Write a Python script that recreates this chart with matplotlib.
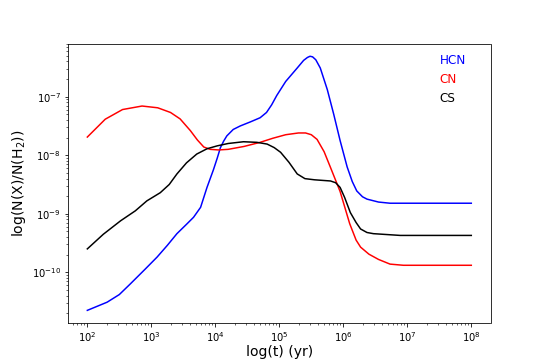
import numpy as np
import matplotlib
matplotlib.use("Agg")
import matplotlib.pyplot as plt

# log10(t / yr) and log10 abundance
lt_hcn = [2.0, 2.31, 2.5, 2.67, 2.9, 3.09, 3.25, 3.40, 3.55, 3.66, 3.77, 3.87, 3.97,
          4.03, 4.08, 4.13, 4.18, 4.28, 4.39, 4.55, 4.70, 4.80, 4.88, 4.96, 5.1, 5.28,
          5.38, 5.44, 5.48, 5.52, 5.57, 5.64, 5.75, 5.85, 5.95, 6.06, 6.14, 6.21,
          6.30, 6.37, 6.55, 6.73, 8.0]
la_hcn = [-10.65, -10.51, -10.38, -10.20, -9.95, -9.74, -9.54, -9.34, -9.18, -9.06,
          -8.89, -8.55, -8.25, -8.05, -7.87, -7.76, -7.67, -7.56, -7.50, -7.43, -7.36,
          -7.27, -7.14, -6.98, -6.74, -6.51, -6.38, -6.33, -6.31, -6.32, -6.37, -6.51,
          -6.88, -7.30, -7.75, -8.20, -8.45, -8.61, -8.71, -8.75, -8.80, -8.82, -8.82]

lt_cn = [2.0, 2.28, 2.55, 2.855, 3.1, 3.30, 3.45, 3.61, 3.72, 3.82, 3.92, 4.05, 4.2,
         4.45, 4.70, 4.9, 5.1, 5.3, 5.41, 5.5, 5.59, 5.7, 5.80, 5.95, 6.10, 6.2, 6.27,
         6.4, 6.55, 6.73, 6.94, 8.0]
la_cn = [-7.69, -7.385, -7.22, -7.16, -7.19, -7.27, -7.38, -7.58, -7.74, -7.86, -7.90,
         -7.91, -7.90, -7.85, -7.78, -7.71, -7.65, -7.62, -7.62, -7.65, -7.73, -7.94,
         -8.21, -8.62, -9.17, -9.45, -9.57, -9.69, -9.78, -9.86, -9.88, -9.88]

lt_cs = [2.0, 2.25, 2.52, 2.75, 2.93, 3.14, 3.28, 3.40, 3.55, 3.71, 3.87, 4.03, 4.2,
         4.44, 4.65, 4.81, 4.92, 5.02, 5.15, 5.28, 5.40, 5.55, 5.80, 5.88, 5.95, 6.02,
         6.11, 6.2, 6.27, 6.37, 6.47, 6.89, 8.0]
la_cs = [-9.60, -9.35, -9.12, -8.95, -8.78, -8.64, -8.50, -8.32, -8.13, -7.98, -7.89,
         -7.84, -7.80, -7.77, -7.78, -7.81, -7.87, -7.95, -8.12, -8.32, -8.40, -8.42,
         -8.44, -8.47, -8.55, -8.72, -8.98, -9.15, -9.26, -9.32, -9.34, -9.37, -9.37]

series = [("HCN", lt_hcn, la_hcn, "blue"),
          ("CN", lt_cn, la_cn, "red"),
          ("CS", lt_cs, la_cs, "black")]

fig, ax = plt.subplots(figsize=(545 / 72, 363 / 72), dpi=72)
for name, lt, la, c in series:
    ax.plot(10 ** np.array(lt), 10 ** np.array(la), color=c, lw=1.5, label=name)

ax.set_xscale("log")
ax.set_yscale("log")
ax.set_xlabel("log(t) (yr)", fontsize=14, labelpad=1)
ax.set_ylabel("log(N(X)/N(H$_2$))", fontsize=14)
ax.legend(loc="upper right", bbox_to_anchor=(0.967, 1.0), frameon=False,
          handlelength=0, handletextpad=0, labelcolor="linecolor", fontsize=12)

fig.savefig("out.png", dpi=72)
